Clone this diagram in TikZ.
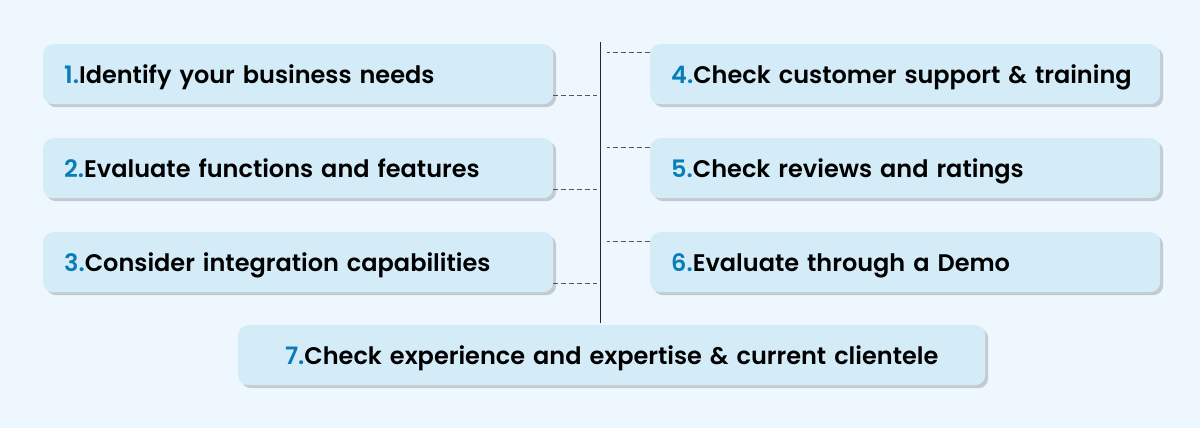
\documentclass[tikz,border=0pt]{standalone}
\usepackage{fontspec}
\usetikzlibrary{shadows}
\setmainfont{Poppins SemiBold}
\definecolor{bg}{HTML}{EEF7FD}
\definecolor{boxfill}{HTML}{D3ECF8}
\definecolor{shadowgrey}{HTML}{C3CBD0}
\definecolor{numblue}{HTML}{0A7DB8}
\definecolor{dashgrey}{HTML}{555555}
\begin{document}
\begin{tikzpicture}[x=1pt,y=-1pt,
  stepbox/.style={fill=boxfill,rounded corners=10pt,minimum height=60pt,minimum width=510pt,
    text width=468pt,inner xsep=21pt,inner ysep=0pt,align=left,anchor=north west,
    text height=21pt,text depth=3pt,
    font=\fontsize{24}{28}\selectfont,text=black,
    drop shadow={shadow xshift=3pt,shadow yshift=-3pt,fill=shadowgrey,opacity=1}},
  widebox/.style={stepbox,minimum width=747pt,text width=705pt,align=center},
  conn/.style={draw=dashgrey,dash pattern=on 5pt off 3pt,line width=1pt},
  vline/.style={draw=black!85,line width=1pt}]
\fill[bg] (0,0) rectangle (1200,428);
\useasboundingbox (0,0) rectangle (1200,428);
\newcommand{\num}[1]{\textcolor{numblue}{#1}}
\node[stepbox] (b1) at (43,44) {\num{1.}Identify your business needs};
\node[stepbox] (b2) at (43,138) {\num{2.}Evaluate functions and features};
\node[stepbox] (b3) at (43,232) {\num{3.}Consider integration capabilities};
\node[stepbox] (b4) at (650,44) {\num{4.}Check customer support \& training};
\node[stepbox] (b5) at (650,138) {\num{5.}Check reviews and ratings};
\node[stepbox] (b6) at (650,232) {\num{6.}Evaluate through a Demo};
\node[widebox] (b7) at (238,325) {\num{7.}Check experience and expertise \& current clientele};
% connectors
\coordinate (top) at (600,42);
\coordinate (bot) at (600,323);
\draw[vline] (top) -- (bot);
\foreach \b in {b1,b2,b3}{
  \draw[conn] ([yshift=9pt]\b.south east) -- ([xshift=44pt,yshift=9pt]\b.south east);}
\foreach \b in {b4,b5,b6}{
  \draw[conn] ([yshift=-9pt]\b.north west) -- ([xshift=-43pt,yshift=-9pt]\b.north west);}
\end{tikzpicture}
\end{document}
